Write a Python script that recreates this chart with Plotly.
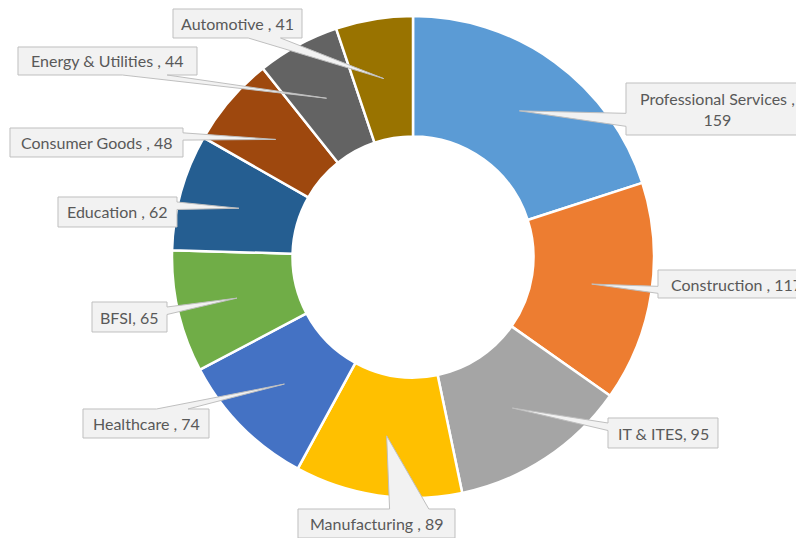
import math
import plotly.graph_objects as go

# ---- data -------------------------------------------------------------
industries = ["Professional Services", "Construction", "IT & ITES", "Manufacturing",
              "Healthcare", "BFSI", "Education", "Consumer Goods",
              "Energy & Utilities", "Automotive"]
counts = [159, 117, 95, 89, 74, 65, 62, 48, 44, 41]
slice_colors = ["#5B9BD5", "#ED7D31", "#A5A5A5", "#FFC000", "#4472C4",
                "#70AD47", "#255E91", "#9E480E", "#636363", "#997300"]
# names whose label has no space before the comma
tight_names = {"BFSI", "IT & ITES"}

# ---- figure geometry (pixels) -----------------------------------------
W, H = 796, 538
CX, CY, R_OUT = 413, 257, 241
HOLE = 0.5
R_IN = R_OUT * HOLE

# callout boxes: centre x, centre y, width, height (pixels)
boxes = {
    "Professional Services": (717, 109, 182, 52),
    "Construction": (736, 284, 156, 28),
    "IT & ITES": (663, 433, 110, 30),
    "Manufacturing": (376.5, 523.5, 157, 29),
    "Healthcare": (146, 423.5, 126, 29),
    "BFSI": (129.5, 317, 75, 30),
    "Education": (117.5, 212, 119, 30),
    "Consumer Goods": (96.5, 142.5, 173, 29),
    "Energy & Utilities": (107.5, 61, 179, 28),
    "Automotive": (237.5, 23.5, 129, 29),
}


def px(x, y):
    """pixel -> paper coordinates"""
    return x / W, 1 - y / H


def callout_path(box, tip):
    """Rectangle callout with a wedge tail pointing at tip (Office style)."""
    cx, cy, w, h = box
    l, r, t, b = cx - w / 2, cx + w / 2, cy - h / 2, cy + h / 2
    tx, ty = tip
    dx, dy = tx - cx, ty - cy
    dz = abs(dy) - abs(dx * h / w)
    x1 = l + w * (7 if dx > 0 else 2) / 12
    x2 = l + w * (10 if dx > 0 else 5) / 12
    y1 = t + h * (7 if dy > 0 else 2) / 12
    y2 = t + h * (10 if dy > 0 else 5) / 12
    pts = [(l, t)]
    if dz > 0 and dy < 0:
        pts += [(x1, t), (tx, ty), (x2, t)]
    pts += [(r, t)]
    if dz <= 0 and dx > 0:
        pts += [(r, y1), (tx, ty), (r, y2)]
    pts += [(r, b)]
    if dz > 0 and dy > 0:
        pts += [(x2, b), (tx, ty), (x1, b)]
    pts += [(l, b)]
    if dz <= 0 and dx <= 0:
        pts += [(l, y2), (tx, ty), (l, y1)]
    coords = [px(x, y) for x, y in pts]
    return "M " + " L ".join(f"{x:.5f},{y:.5f}" for x, y in coords) + " Z"


fig = go.Figure()
fig.add_trace(go.Pie(
    labels=industries,
    values=counts,
    sort=False,
    direction="clockwise",
    rotation=0,
    hole=HOLE,
    marker=dict(colors=slice_colors, line=dict(color="white", width=2.5)),
    textinfo="none",
    hoverinfo="label+value",
    showlegend=False,
    domain=dict(x=[(CX - R_OUT) / W, (CX + R_OUT) / W],
                y=[1 - (CY + R_OUT) / H, 1 - (CY - R_OUT) / H]),
))

total = sum(counts)
shapes, annotations = [], []
start = 0.0
r_mid = (R_IN + R_OUT) / 2
for name, val in zip(industries, counts):
    frac = val / total
    theta = 2 * math.pi * (start + frac / 2)
    start += frac
    tip = (CX + r_mid * math.sin(theta), CY - r_mid * math.cos(theta))
    box = boxes[name]
    shapes.append(dict(type="path", xref="paper", yref="paper",
                       path=callout_path(box, tip),
                       fillcolor="#F2F2F2", line=dict(color="#BFBFBF", width=1),
                       layer="above"))
    sep = ", " if name in tight_names else " , "
    text = f"{name}{sep}{val}"
    if name == "Professional Services":
        text = f"{name} ,<br>{val}"
    ax, ay = px(box[0], box[1])
    annotations.append(dict(text=text, x=ax, y=ay, xref="paper", yref="paper",
                            xanchor="center", yanchor="middle", showarrow=False,
                            align="center",
                            font=dict(family="Lato", size=16, color="#595959")))

fig.update_layout(
    width=W, height=H,
    margin=dict(l=0, r=0, t=0, b=0),
    paper_bgcolor="white",
    plot_bgcolor="white",
    shapes=shapes,
    annotations=annotations,
)

fig.write_html("out.html")
